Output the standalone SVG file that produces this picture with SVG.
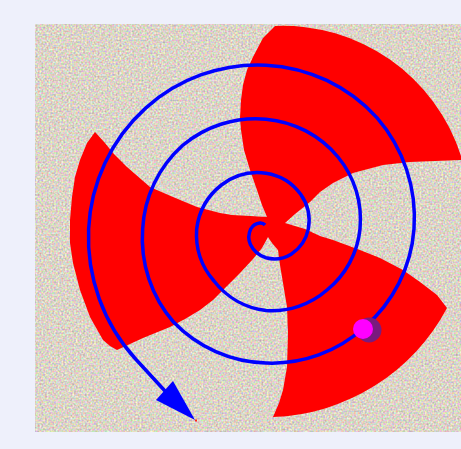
<svg xmlns="http://www.w3.org/2000/svg" width="461" height="449" viewBox="0 0 461 449">
  <style>
    .spiral { fill: none; stroke: #0000ff; stroke-width: 3.5; stroke-linejoin: round; stroke-linecap: butt; }
    .red { fill: #ff0000; }
  </style>
  <defs>
    <filter id="grain" x="35" y="24" width="426" height="408" filterUnits="userSpaceOnUse" color-interpolation-filters="sRGB">
      <feTurbulence type="fractalNoise" baseFrequency="0.55" numOctaves="1" seed="7"/>
      <feColorMatrix type="matrix" values="0.6 0 0 0 0.56  0 0.6 0 0 0.53  0 0 0.6 0 0.48  0 0 0 0 1"/>
    </filter>
  </defs>

  <g id="background">
    <rect x="0" y="0" width="461" height="449" fill="#eef0fb"/>
    <rect x="35" y="24" width="426" height="408" fill="#d9d0c0"/>
    <rect x="35" y="24" width="426" height="408" filter="url(#grain)"/>
  </g>

  <g id="sectors">
    <path class="red" d="M267,217 L262,205 257,190 250,170 244,150 241,130 240,118 241,100 243,85 247,70 253,57 263,38 275,26
      A187,187 0 0 1 461,156 L461,160
      L435,161 410,162 383,165 353,173 333,183 320,192 310,202 300,210 295,214 285,223
      L305,229 320,236 333,240 360,250 380,258 403,270 420,282 437,295 447,308
      A205,205 0 0 1 273,417
      L279,403 283,390 287,367 288,333 287,307 283,283 280,265 278,250 272,243 268,237
      L262,248 253,259 240,273 227,286 213,300 200,310 185,319 170,327 143,338 117,350
      L110,346 103,340 90,317 80,290 73,263 70,243 70,220 72,197 75,177 80,160 87,143 95,132
      L105,143 113,153 127,167 150,187 173,197 197,207 220,213 232,215 250,216 Z"/>
  </g>

  <g id="connectors">
    <path class="spiral" d="M265,225
      A6,6 0 0 0 259.97,222.97
      A12,12 0 0 0 250.72,229
      A18.7,18.7 0 0 0 250.42,244.58
      A25.4,25.4 0 0 0 266,257.79
      A32.2,32.2 0 0 0 291.14,254.14
      A38.9,38.9 0 0 0 308.3,229
      A45.7,45.7 0 0 0 300.68,194.32
      A52.4,52.4 0 0 0 266,173.19
      A59.2,59.2 0 0 0 221.76,184.76
      A65.9,65.9 0 0 0 196.68,229
      A71.4,71.4 0 0 0 214,281
      A77.5,77.5 0 0 0 266,310.5
      A84,84 0 0 0 327,290
      A90,90 0 0 0 360,229
      A98,98 0 0 0 338,157
      A105.8,105.8 0 0 0 266,119.16
      A114,114 0 0 0 182.5,145.5
      A120.7,120.7 0 0 0 142.65,229
      A127.7,127.7 0 0 0 173.5,322
      A133,133 0 0 0 266,363
      A136.5,136.5 0 0 0 364.3,327.3
      A143.5,143.5 0 0 0 414,229
      A152.5,152.5 0 0 0 377.1,117.9
      A160.5,160.5 0 0 0 266,65.13
      A167.2,167.2 0 0 0 145.35,108.35
      A174,174 0 0 0 88.62,229
      A180.8,180.8 0 0 0 135.8,359.2
      L165,391"/>
    <polygon id="arrowhead" points="173,381 195,420 156,400" fill="#0000ff"/>
    <rect x="195" y="419.5" width="2" height="2" fill="#ff2020"/>
  </g>

  <g id="marker">
    <circle cx="369" cy="330" r="12.5" fill="#7a1a7e"/>
    <circle cx="363" cy="329" r="10" fill="#ff00ff"/>
  </g>
</svg>
